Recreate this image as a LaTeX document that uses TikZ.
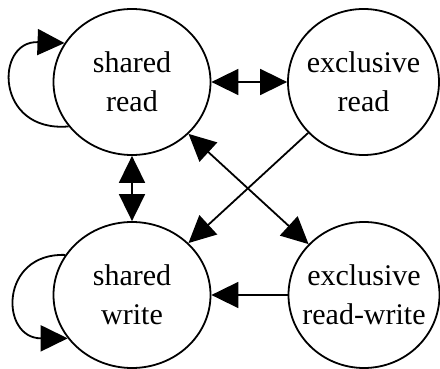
\documentclass[tikz,border=0pt]{standalone}
\usepackage{fontspec}
\setmainfont{Liberation Serif}
\newfontfamily\statefont{Liberation Serif}
\usetikzlibrary{arrows.meta,shapes.geometric}

\tikzset{
  state/.style={draw, ellipse, line width=1.8pt, inner ysep=0pt, inner xsep=-30pt,
    minimum width=157pt, minimum height=146pt, align=center,
    font=\statefont\fontsize{30}{39}\selectfont},
  edge/.style={line width=1.8pt, -{Triangle[length=27pt,width=26pt]}},
  biedge/.style={line width=1.8pt, {Triangle[length=27pt,width=26pt]}-{Triangle[length=27pt,width=26pt]}}
}

\begin{document}
\begin{tikzpicture}[x=1pt,y=1pt]
  \useasboundingbox (0,0) rectangle (440,369);

  % the four states
  \node[state] (sr)  at (132,287)   {shared\\read};
  \node[state, minimum width=151pt] (er)  at (363.5,287) {exclusive\\read};
  \node[state] (sw)  at (132,74)    {shared\\write};
  \node[state, minimum width=151pt] (erw) at (364,74)    {exclusive\\read-write};

  % transitions
  \draw[biedge] (sr) -- (er);
  \draw[biedge] (sr) -- (sw);
  \draw[edge]   (er) -- (sw);
  \draw[biedge] (sr) -- (erw);
  \draw[edge]   (erw) -- (sw);

  % self loops
  \draw[edge] (sr.215) to[out=185, in=178, out distance=74pt, in distance=70pt] (sr.150);
  \draw[edge] (sw.149) to[out=178, in=180, out distance=66pt, in distance=68pt] (sw.214);
\end{tikzpicture}
\end{document}
